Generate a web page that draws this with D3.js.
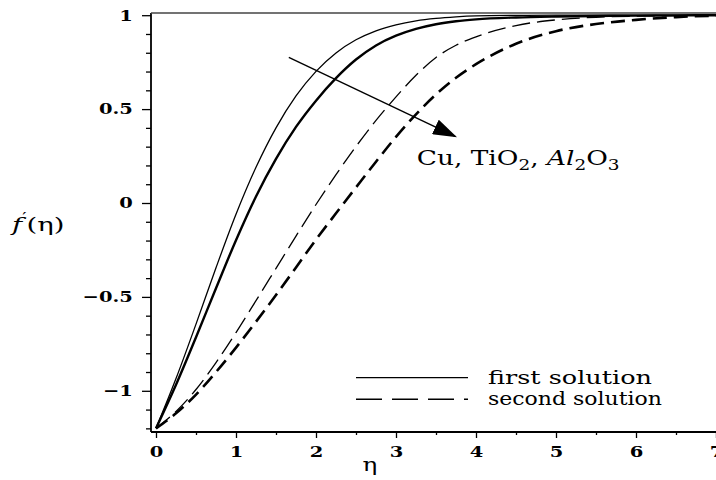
<!DOCTYPE html>
<html>
<head>
<meta charset="utf-8">
<script src="https://cdn.jsdelivr.net/npm/d3@7"></script>
<style>
  body { margin: 0; background: #fff; }
  text { font-family: "DejaVu Serif", serif; fill: #000; }
</style>
</head>
<body>
<script>
// values
var eta = [0, 0.25, 0.5, 0.75, 1, 1.25, 1.5, 1.75, 2, 2.25, 2.5, 2.75, 3, 3.25, 3.5, 3.75, 4, 4.5, 5, 5.5, 6, 6.5, 7];
var firstThin   = [-1.2, -0.935, -0.645, -0.345, -0.06, 0.19, 0.40, 0.57, 0.701, 0.799, 0.869, 0.917, 0.949, 0.970, 0.983, 0.991, 0.996, 0.999, 1, 1, 1, 1, 1];
var firstThick  = [-1.2, -0.968, -0.715, -0.454, -0.198, 0.035, 0.235, 0.405, 0.545, 0.665, 0.764, 0.839, 0.891, 0.927, 0.952, 0.968, 0.978, 0.988, 0.993, 0.996, 0.998, 0.999, 1];
var secondThin  = [-1.2, -1.11, -0.993, -0.85, -0.69, -0.52, -0.348, -0.176, -0.008, 0.151, 0.301, 0.44, 0.565, 0.68, 0.775, 0.84, 0.885, 0.945, 0.975, 0.989, 0.995, 0.998, 1];
var secondThick = [-1.2, -1.12, -1.02, -0.9, -0.77, -0.632, -0.49, -0.343, -0.195, -0.055, 0.083, 0.22, 0.352, 0.472, 0.578, 0.667, 0.739, 0.848, 0.915, 0.953, 0.975, 0.99, 0.997];

var xMajor = [0, 1, 2, 3, 4, 5, 6, 7];
var xMinor = [0.5, 1.5, 2.5, 3.5, 4.5, 5.5, 6.5];
var yMajor = [-1, -0.5, 0, 0.5, 1];
var yLabels = ['\u22121', '\u22120.5', '0', '0.5', '1'];
var legendLabels = ['first solution', 'second solution'];

var w = 716, h = 480;

var svg = d3.select('body').append('svg')
  .attr('width', w)
  .attr('height', h);

var x = d3.scaleLinear().domain([0, 7]).range([156, 716]);
var y = d3.scaleLinear().domain([-1, 1]).range([390.8, 15.2]);

var axisX = 151;   // where the vertical axis sits
var axisY = 432;   // where the horizontal axis sits
var frameY = 13;

// text stretched sideways like the picture's
function stretched(parent, px, py, sx, size) {
  return parent.append('text')
    .attr('transform', 'translate(' + px + ',' + py + ') scale(' + sx + ',1)')
    .attr('font-size', size + 'px');
}

// minor y ticks every 0.1
var yMinor = d3.range(-12, 11).map(function(i) { return i / 10; })
  .filter(function(v) { return yMajor.indexOf(v) < 0; });

svg.append('g')
  .attr('transform', 'translate(' + axisX + ',0)')
  .call(d3.axisLeft(y).tickValues(yMinor).tickSize(5).tickFormat(''))
  .call(function(g) { g.select('.domain').remove(); });

var gy = svg.append('g')
  .attr('transform', 'translate(' + axisX + ',0)')
  .call(d3.axisLeft(y).tickValues(yMajor).tickSize(9).tickSizeOuter(0)
    .tickFormat(function(d, i) { return yLabels[i]; }));
gy.select('.domain').remove();
gy.selectAll('text')
  .attr('font-family', '"DejaVu Serif", serif')
  .attr('font-weight', 'bold')
  .attr('font-size', '15px')
  .attr('x', -14)
  .attr('transform', 'scale(1.3,1)');

svg.append('g')
  .attr('transform', 'translate(0,' + axisY + ')')
  .call(d3.axisBottom(x).tickValues(xMinor).tickSize(3).tickFormat(''))
  .call(function(g) { g.select('.domain').remove(); });

var gx = svg.append('g')
  .attr('transform', 'translate(0,' + axisY + ')')
  .call(d3.axisBottom(x).tickValues(xMajor).tickSize(6).tickFormat(d3.format('d')));
gx.select('.domain').remove();
gx.selectAll('text')
  .attr('font-family', '"DejaVu Serif", serif')
  .attr('font-weight', 'bold')
  .attr('font-size', '15px')
  .attr('y', 25)
  .attr('dy', 0)
  .attr('transform', 'scale(1.3,1)');

svg.selectAll('.tick line').attr('stroke', '#000').attr('stroke-width', 1.3);

// axis lines and top frame
svg.append('line')
  .attr('x1', axisX).attr('x2', axisX)
  .attr('y1', frameY).attr('y2', axisY)
  .attr('stroke', '#000').attr('stroke-width', 1.8);
svg.append('line')
  .attr('x1', axisX).attr('x2', w)
  .attr('y1', axisY).attr('y2', axisY)
  .attr('stroke', '#000').attr('stroke-width', 1.8);
svg.append('line')
  .attr('x1', axisX).attr('x2', w)
  .attr('y1', frameY).attr('y2', frameY)
  .attr('stroke', '#444').attr('stroke-width', 1.3);

// curves
var line = d3.line()
  .x(function(d) { return x(d[0]); })
  .y(function(d) { return y(d[1]); })
  .curve(d3.curveMonotoneX);

var series = [
  { vals: firstThin,   width: 1.3, dash: null },
  { vals: firstThick,  width: 2.4, dash: null },
  { vals: secondThin,  width: 1.3, dash: '18,7' },
  { vals: secondThick, width: 2.6, dash: '14,7' }
];

svg.selectAll('path.curve')
  .data(series)
  .enter()
  .append('path')
  .attr('class', 'curve')
  .attr('d', function(s) { return line(eta.map(function(e, i) { return [e, s.vals[i]]; })); })
  .attr('fill', 'none')
  .attr('stroke', '#000')
  .attr('stroke-width', function(s) { return s.width; })
  .attr('stroke-dasharray', function(s) { return s.dash; });

// arrow across the curves
svg.append('defs').append('marker')
  .attr('id', 'head')
  .attr('markerUnits', 'userSpaceOnUse')
  .attr('markerWidth', 24).attr('markerHeight', 16)
  .attr('refX', 22).attr('refY', 8)
  .attr('orient', 'auto')
  .append('path')
  .attr('d', 'M0,0 L24,8 L0,16 Z')
  .attr('fill', '#000');

svg.append('line')
  .attr('x1', x(1.66)).attr('y1', y(0.775))
  .attr('x2', x(3.74)).attr('y2', y(0.355))
  .attr('stroke', '#000').attr('stroke-width', 1.4)
  .attr('marker-end', 'url(#head)');

var note = stretched(svg, x(3.26), y(0.2), 1.32, 20);
note.append('tspan').text('Cu, TiO');
note.append('tspan').attr('font-size', '14px').attr('dy', 5).text('2');
note.append('tspan').attr('dy', -5).text(', ');
note.append('tspan').attr('font-style', 'italic').text('Al');
note.append('tspan').attr('font-size', '14px').attr('dy', 5).text('2');
note.append('tspan').attr('dy', -5).text('O');
note.append('tspan').attr('font-size', '14px').attr('dy', 5).text('3');

// legend
var legY = [-0.93, -1.045];
var legDash = [null, '26,10'];
var legWidth = [164, 174];
legendLabels.forEach(function(label, i) {
  svg.append('line')
    .attr('x1', x(2.5)).attr('x2', x(3.9))
    .attr('y1', y(legY[i])).attr('y2', y(legY[i]))
    .attr('stroke', '#000').attr('stroke-width', 1.3)
    .attr('stroke-dasharray', legDash[i]);
  svg.append('text')
    .attr('x', x(4.15)).attr('y', y(legY[i]) + 6)
    .attr('font-size', '19px')
    .attr('textLength', legWidth[i])
    .attr('lengthAdjust', 'spacingAndGlyphs')
    .text(label);
});

// axis titles
stretched(svg, 370, 471, 1.3, 19).attr('text-anchor', 'middle').text('\u03b7');

var yt = stretched(svg, 12, 231, 1.45, 19);
yt.append('tspan').attr('font-style', 'italic').text('f');
yt.append('tspan').attr('font-size', '13px').attr('dy', -9).text('\u2032');
yt.append('tspan').attr('dy', 9).text('(\u03b7)');
</script>
</body>
</html>
